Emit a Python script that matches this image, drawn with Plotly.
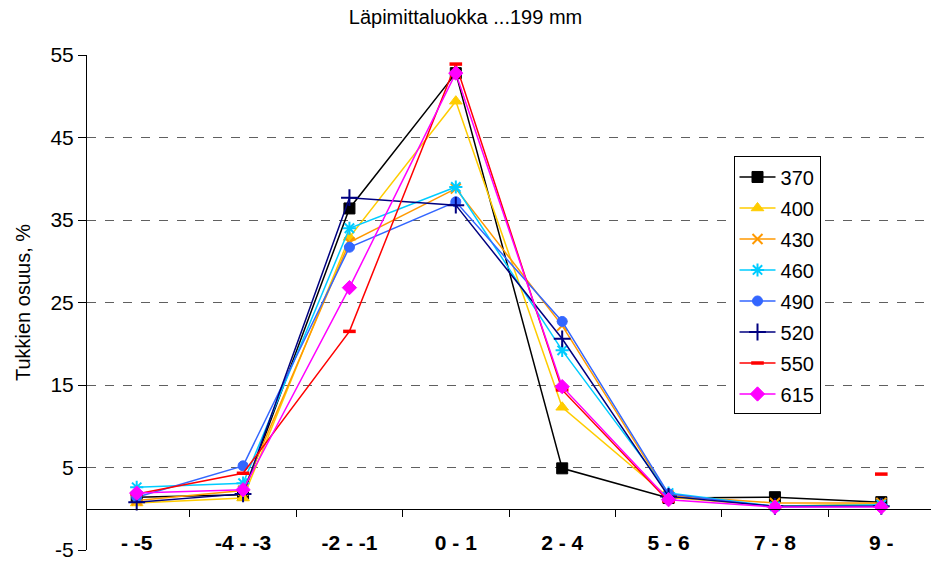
import plotly.graph_objects as go

# Diameter-class deviation categories
categories = ["- -5", "-4 - -3", "-2 - -1", "0 - 1", "2 - 4", "5 - 6", "7 - 8", "9 -"]

# Share of logs (%) per series
s370 = [1.4, 1.7, 36.4, 52.8, 4.9, 1.3, 1.4, 0.8]
s400 = [0.7, 1.3, 32.9, 49.4, 12.3, 1.4, 0.3, 0.6]
s430 = [1.0, 2.2, 32.3, 38.8, 22.2, 1.6, 0.7, 0.7]
s460 = [2.6, 3.1, 34.0, 39.0, 19.2, 1.9, 0.3, 0.5]
s490 = [1.4, 5.2, 31.7, 37.2, 22.7, 1.8, 0.2, 0.3]
s520 = [0.8, 1.8, 37.7, 36.8, 20.6, 1.5, 0.3, 0.3]
s550 = [1.8, 4.3, 21.5, 53.9, 14.4, 0.9, None, 4.2]
s615 = [1.9, 2.3, 26.8, 52.8, 14.8, 1.1, 0.2, 0.2]

# Y tick values and their labels (plain hyphen for negatives)
y_ticks = [-5, 5, 15, 25, 35, 45, 55]
y_ticktext = ["-5", "5", "15", "25", "35", "45", "55"]

series = [
    ("370", s370, "#000000", "square", 11, 1),
    ("400", s400, "#FFCC00", "triangle-up", 11, 1),
    ("430", s430, "#FF9900", "x-thin-open", 10, 2),
    ("460", s460, "#00CCFF", "asterisk-open", 11, 2),
    ("490", s490, "#3366FF", "circle", 10, 1),
    ("520", s520, "#000080", "cross-thin-open", 12, 2),
    ("550", s550, "#FF0000", "line-ew-open", 9, 3.5),
    ("615", s615, "#FF00FF", "diamond", 11, 1),
]

FONT = "Liberation Sans, Arial, sans-serif"

fig = go.Figure()
for name, vals, color, symbol, size, mlw in series:
    fig.add_trace(go.Scatter(
        x=categories, y=vals, name=name, mode="lines+markers",
        legendgroup=name,
        line=dict(color=color, width=1.5),
        marker=dict(symbol=symbol, size=size, color=color,
                    line=dict(color=color, width=mlw)),
        connectgaps=False,
    ))

fig.update_layout(
    width=931, height=562,
    margin=dict(l=87, r=0, t=55, b=12),
    paper_bgcolor="white", plot_bgcolor="white",
    font=dict(family=FONT, size=19, color="black"),
    title=dict(text="Läpimittaluokka ...199 mm", x=0.5, xanchor="center",
               y=1, yanchor="top", pad=dict(t=10),
               font=dict(family=FONT, size=20, color="black")),
    showlegend=True,
    legend=dict(x=0.766, y=0.795, xanchor="left", yanchor="top",
                bgcolor="white", bordercolor="black", borderwidth=1,
                font=dict(family=FONT, size=20, color="black"),
                itemwidth=36,
                tracegroupgap=2, traceorder="grouped"),
    xaxis=dict(
        type="category", anchor="free", position=5 / 60,
        showline=True, linecolor="black", linewidth=1,
        ticks="outside", tickson="boundaries", ticklen=7, tickcolor="black",
        ticklabelstandoff=15,
        tickfont=dict(family=FONT, size=21, color="black", weight="bold"),
        showgrid=False, zeroline=False,
    ),
    xaxis2=dict(
        overlaying="x", anchor="y", range=[0, 1],
        showline=True, mirror=True, linecolor="#A0A0A0", linewidth=1.5,
        showticklabels=False, ticks="", showgrid=False, zeroline=False,
    ),
    yaxis=dict(
        range=[-5, 55], tickvals=y_ticks, ticktext=y_ticktext,
        showline=True, linecolor="black", linewidth=1,
        ticks="outside", ticklen=8, tickcolor="black",
        tickfont=dict(family=FONT, size=21, color="black"),
        showgrid=True, gridcolor="#606060", griddash="dash", gridwidth=1,
        zeroline=False,
        title=dict(text="Tukkien osuus, %", standoff=14,
                   font=dict(family=FONT, size=20, color="black")),
    ),
)

fig.write_html("out.html")
